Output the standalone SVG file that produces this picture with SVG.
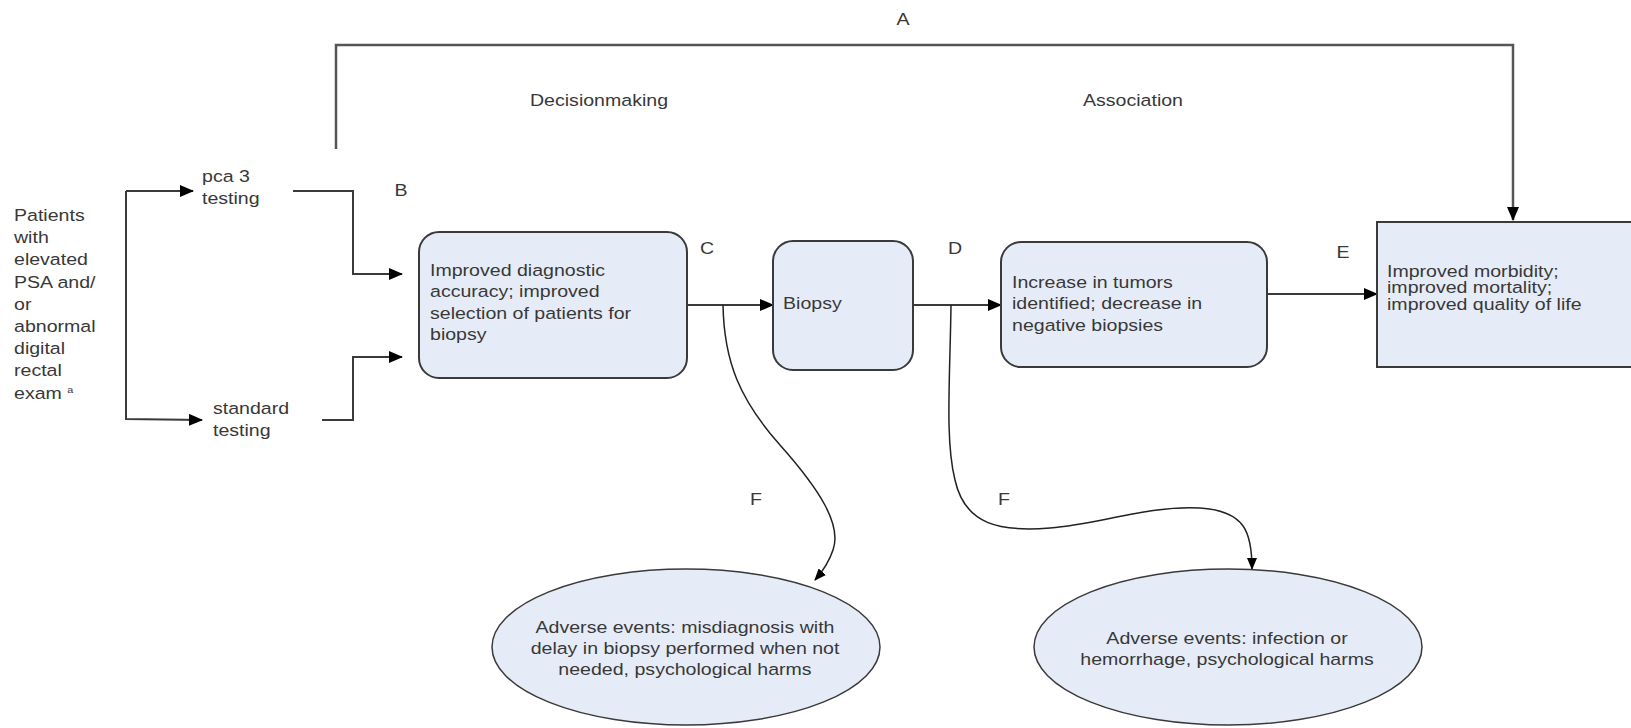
<svg xmlns="http://www.w3.org/2000/svg" width="1631" height="728" viewBox="0 0 1631 728">
<defs>
<style>
.t{font-family:"Liberation Sans",Arial,sans-serif;font-size:16.3px;fill:#383838}
.m{text-anchor:middle}
.box{fill:#e6ecf7;stroke:#3a3a3a;stroke-width:2}
.ln{fill:none;stroke:#3a3a3a;stroke-width:2}
.cv{fill:none;stroke:#222;stroke-width:1.5}
</style>
<marker id="ah" markerWidth="14" markerHeight="12" refX="13" refY="6" orient="auto" markerUnits="userSpaceOnUse">
<path d="M0,0 L14,6 L0,12 z" fill="#000"/>
</marker>
<marker id="ahs" markerWidth="12" markerHeight="10" refX="11" refY="5" orient="auto" markerUnits="userSpaceOnUse">
<path d="M0,0 L12,5 L0,10 z" fill="#000"/>
</marker>
</defs>
<rect width="1631" height="728" fill="#fff"/>

<g id="connectors">
<path class="ln" d="M336,149 V45 H1513 V220" marker-end="url(#ah)" style="stroke:#555;stroke-width:2.5"/>
<path class="ln" d="M126,191 H193" marker-end="url(#ah)"/>
<path class="ln" d="M126,191 V419 L202,420" marker-end="url(#ah)"/>
<path class="ln" d="M293,191 H353 V274 H402" marker-end="url(#ah)"/>
<path class="ln" d="M322,420 H353 V357 H402" marker-end="url(#ah)"/>
<path class="ln" d="M687,305 H773" marker-end="url(#ah)"/>
<path class="ln" d="M913,305 H1001" marker-end="url(#ah)"/>
<path class="ln" d="M1267,294 H1377" marker-end="url(#ah)"/>
<path class="cv" d="M723,305 C724,362 740,400 780,445 C820,490 842,525 833,550 C829,562 823,571 815,580" marker-end="url(#ahs)"/>
<path class="cv" d="M951,305 C950,380 945,440 955,480 C965,525 1000,532 1050,528 C1100,524 1150,505 1200,508 C1245,511 1252,532 1252,569" marker-end="url(#ahs)"/>
</g>

<g id="labels">
<text class="t m" transform="translate(903 25) scale(1.2 1)">A</text>
<text class="t m" transform="translate(599 106) scale(1.2 1)">Decisionmaking</text>
<text class="t m" transform="translate(1133 106) scale(1.2 1)">Association</text>
<text class="t m" transform="translate(401 196) scale(1.2 1)">B</text>
<text class="t m" transform="translate(707 254) scale(1.2 1)">C</text>
<text class="t m" transform="translate(955 254) scale(1.2 1)">D</text>
<text class="t m" transform="translate(1343 258) scale(1.2 1)">E</text>
<text class="t m" transform="translate(756 505) scale(1.2 1)">F</text>
<text class="t m" transform="translate(1004 505) scale(1.2 1)">F</text>
</g>

<g id="patients">
<text class="t" transform="translate(14 221) scale(1.2 1)"><tspan x="0" y="0">Patients</tspan><tspan x="0" y="22.2">with</tspan><tspan x="0" y="44.4">elevated</tspan><tspan x="0" y="66.6">PSA and/</tspan><tspan x="0" y="88.8">or</tspan><tspan x="0" y="111">abnormal</tspan><tspan x="0" y="133.2">digital</tspan><tspan x="0" y="155.4">rectal</tspan><tspan x="0" y="177.6">exam <tspan font-size="9" dy="-6">a</tspan></tspan></text>
</g>

<g id="pca3">
<text class="t" transform="translate(202 182) scale(1.2 1)"><tspan x="0" y="0">pca 3</tspan><tspan x="0" y="22.5">testing</tspan></text>
</g>

<g id="standard">
<text class="t" transform="translate(213 413.5) scale(1.2 1)"><tspan x="0" y="0">standard</tspan><tspan x="0" y="22.5">testing</tspan></text>
</g>

<g id="accuracy">
<rect class="box" x="419" y="232" width="268" height="146" rx="20"/>
<text class="t" transform="translate(430 276) scale(1.2 1)"><tspan x="0" y="0">Improved diagnostic</tspan><tspan x="0" y="21.5">accuracy; improved</tspan><tspan x="0" y="43">selection of patients for</tspan><tspan x="0" y="64.5">biopsy</tspan></text>
</g>

<g id="biopsy">
<rect class="box" x="773" y="241" width="140" height="129" rx="20"/>
<text class="t" transform="translate(783 309) scale(1.2 1)">Biopsy</text>
</g>

<g id="tumors">
<rect class="box" x="1001" y="242" width="266" height="125" rx="20"/>
<text class="t" transform="translate(1012 287.5) scale(1.2 1)"><tspan x="0" y="0">Increase in tumors</tspan><tspan x="0" y="22">identified; decrease in</tspan><tspan x="0" y="44">negative biopsies</tspan></text>
</g>

<g id="outcomes">
<rect class="box" x="1377" y="222" width="270" height="145"/>
<text class="t" transform="translate(1387 276.5) scale(1.2 1)"><tspan x="0" y="0">Improved morbidity;</tspan><tspan x="0" y="16.7">improved mortality;</tspan><tspan x="0" y="33.4">improved quality of life</tspan></text>
</g>

<g id="adverse1">
<ellipse class="box" cx="686" cy="647" rx="194" ry="78" style="stroke-width:1.5"/>
<text class="t m" transform="translate(685 632.5) scale(1.2 1)"><tspan x="0" y="0">Adverse events: misdiagnosis with</tspan><tspan x="0" y="21.5">delay in biopsy performed when not</tspan><tspan x="0" y="43">needed, psychological harms</tspan></text>
</g>

<g id="adverse2">
<ellipse class="box" cx="1228" cy="647" rx="194" ry="78" style="stroke-width:1.5"/>
<text class="t m" transform="translate(1227 643.5) scale(1.2 1)"><tspan x="0" y="0">Adverse events: infection or</tspan><tspan x="0" y="22">hemorrhage, psychological harms</tspan></text>
</g>
</svg>
